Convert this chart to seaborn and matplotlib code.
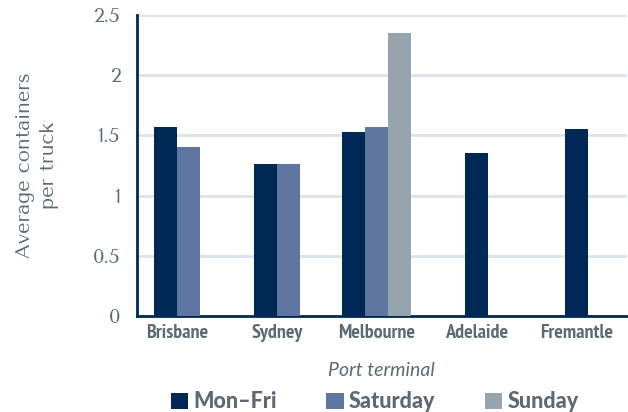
import matplotlib
matplotlib.use("Agg")
import matplotlib.pyplot as plt
from matplotlib.patches import Patch
import seaborn as sns
import pandas as pd

# Average containers per truck by port terminal and day type
terminals = ["Brisbane", "Sydney", "Melbourne", "Adelaide", "Fremantle"]
series = ["Mon–Fri", "Saturday", "Sunday"]
mon_fri = [1.57, 1.26, 1.53, 1.35, 1.55]
saturday = [1.40, 1.26, 1.57, None, None]
sunday = [None, None, 2.35, None, None]
colors = {"Mon–Fri": "#002856", "Saturday": "#5f76a0", "Sunday": "#97a4ad"}

TEXT = "#5d6a73"
NAVY = "#002856"
BAR_W = 0.23

# Long table; the bars present in a terminal are centred on its tick
rows = []
for i, term in enumerate(terminals):
    present = [(s, v) for s, v in zip(series, (mon_fri[i], saturday[i], sunday[i])) if v is not None]
    n = len(present)
    for k, (s, v) in enumerate(present):
        rows.append({"pos": i + (k - (n - 1) / 2) * BAR_W, "value": v, "series": s})
df = pd.DataFrame(rows)

sns.set_theme(style="white")
plt.rcParams["font.family"] = ["Lato", "DejaVu Sans"]

fig = plt.figure(figsize=(6.28, 4.12), dpi=100)
ax = fig.add_axes([0.218, 0.233, 0.78, 0.731])

sns.barplot(data=df, x="pos", y="value", hue="series", hue_order=series,
            palette=colors, saturation=1, native_scale=True, dodge=False, width=1.0,
            legend=False, ax=ax, zorder=3, linewidth=0)

ax.set_xlim(-0.4, 4.5)
ax.set_ylim(0, 2.5)
ax.set_yticks([0, 0.5, 1, 1.5, 2, 2.5])
ax.set_yticklabels(["0", "0.5", "1", "1.5", "2", "2.5"], fontsize=14, color=TEXT,
                   family=["Tenor Sans", "Lato", "DejaVu Sans"])
ax.set_xticks(range(len(terminals)))
ax.set_xticklabels(terminals, fontsize=14.5, color=TEXT, fontweight="bold",
                   family=["PT Sans Narrow", "DejaVu Sans"])
ax.tick_params(axis="x", length=0, pad=6)
ax.tick_params(axis="y", length=0, pad=12)

ax.grid(axis="y", color="#dae2eb", linewidth=2, zorder=0)
ax.grid(axis="x", visible=False)
for side in ("top", "right"):
    ax.spines[side].set_visible(False)
for side in ("left", "bottom"):
    ax.spines[side].set_color(NAVY)
    ax.spines[side].set_linewidth(2)

ax.set_xlabel("Port terminal", fontsize=14, color=TEXT, style="italic", labelpad=14)
ax.set_ylabel("Average containers\nper truck", fontsize=14.5, color=TEXT, labelpad=24,
              linespacing=1.4, family=["Tenor Sans", "Lato", "DejaVu Sans"])

handles = [Patch(facecolor=colors[s], edgecolor="none") for s in series]
fig.legend(handles, series, loc="lower center", bbox_to_anchor=(0.597, -0.048),
           ncol=3, frameon=False, handlelength=0.8, handleheight=0.8,
           handletextpad=0.25, columnspacing=2.3,
           prop={"family": ["Lato", "DejaVu Sans"], "weight": 900, "size": 15.5},
           labelcolor=TEXT)

fig.savefig("out.png", dpi=100)
